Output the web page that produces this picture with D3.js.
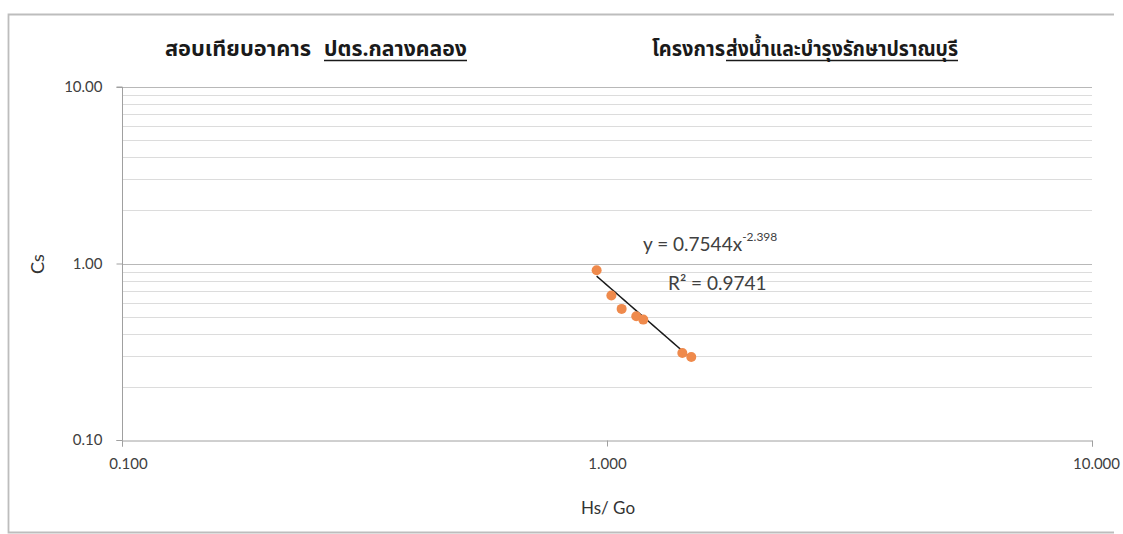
<!DOCTYPE html>
<html><head><meta charset="utf-8">
<script src="https://cdn.jsdelivr.net/npm/d3@7"></script>
<style>
html,body{margin:0;padding:0;background:#fff;}
svg{display:block;}
</style></head>
<body>
<svg id="chart" width="1123" height="534"></svg>
<script>
// ---- data ----
const hsGo = [0.952, 1.021, 1.072, 1.149, 1.188, 1.430, 1.492];
const cs   = [0.916, 0.658, 0.553, 0.502, 0.481, 0.311, 0.295];
const fitCoef = 0.7544;
const fitExp = -2.398;
const rSquared = "0.9741";
const xTickValues = [0.1, 1, 10];
const xTickLabels = ["0.100", "1.000", "10.000"];
const yTickValues = [0.1, 1, 10];
const yTickLabels = ["0.10", "1.00", "10.00"];
const titleLeftA = "สอบเทียบอาคาร";
const titleLeftB = "ปตร.กลางคลอง";
const titleRightA = "โครงการ";
const titleRightB = "ส่งน้ำและบำรุงรักษาปราณบุรี";
const xLabel = "Hs/ Go";
const yLabel = "Cs";

const svg = d3.select("#chart");
const L = 122, R = 1092, T = 87, B = 440;
const latin = "Lato, 'Open Sans', sans-serif";
const thai = "'Noto Sans Thai','Noto Sans','Loma','Garuda',sans-serif";

// frame (no right border visible in the reference)
svg.append("path").attr("d", "M1114,14.5H8.5V532.5H1114")
  .attr("fill", "none").attr("stroke", "#bdbdbd").attr("stroke-width", 1.8);

const x = d3.scaleLog().domain([0.1, 10]).range([L, R]);
const y = d3.scaleLog().domain([0.1, 10]).range([B, T]);

// minor + major horizontal gridlines
const gridVals = [];
for (const dec of [0.1, 1]) for (let k = 2; k <= 10; k++) gridVals.push(+(dec * k).toFixed(4));
svg.append("g").selectAll("line").data(gridVals).join("line")
  .attr("x1", L).attr("x2", R)
  .attr("y1", d => Math.round(y(d)) + 0.5).attr("y2", d => Math.round(y(d)) + 0.5)
  .attr("stroke", d => (d === 1 || d === 10) ? "#b8b8b8" : "#dcdcdc")
  .attr("stroke-width", 1);

// y axis
const yAxis = d3.axisLeft(y).tickValues(yTickValues)
  .tickFormat((d, i) => yTickLabels[i]).tickSize(6).tickPadding(14);
const gy = svg.append("g").attr("transform", `translate(${L + 0.5},0)`).call(yAxis);
gy.select(".domain").attr("stroke", "#a0a0a0").attr("d", `M-6,${B + 0.5}H0V${T}H-6`);
gy.selectAll(".tick line").attr("stroke", "#a0a0a0");
gy.selectAll(".tick text").attr("font-family", latin).attr("font-size", 15).attr("fill", "#404040");

// x axis
const xAxis = d3.axisBottom(x).tickValues(xTickValues)
  .tickFormat((d, i) => xTickLabels[i]).tickSize(6).tickPadding(12);
const gx = svg.append("g").attr("transform", `translate(0,${B + 0.5})`).call(xAxis);
gx.select(".domain").attr("stroke", "#a0a0a0");
gx.selectAll(".tick line").attr("stroke", "#a0a0a0");
gx.selectAll(".tick text").attr("font-family", latin).attr("font-size", 15).attr("fill", "#404040")
  .attr("dx", (d, i) => i === 0 ? 6 : (i === 2 ? 4 : 0));

// trendline (power fit) across data range
const xMin = d3.min(hsGo), xMax = d3.max(hsGo);
const fitPts = d3.range(0, 21).map(i => {
  const xv = xMin * Math.pow(xMax / xMin, i / 20);
  return [xv, fitCoef * Math.pow(xv, fitExp)];
});
svg.append("path").datum(fitPts)
  .attr("d", d3.line().x(d => x(d[0])).y(d => y(d[1])))
  .attr("fill", "none").attr("stroke", "#1a1a1a").attr("stroke-width", 1.5);

// points
svg.append("g").selectAll("circle").data(hsGo.map((v, i) => [v, cs[i]])).join("circle")
  .attr("cx", d => x(d[0])).attr("cy", d => y(d[1])).attr("r", 5)
  .attr("fill", "#ef8a4c");

// equation
const eq = svg.append("text").attr("x", 643).attr("y", 251)
  .attr("font-family", latin).attr("font-size", 19).attr("fill", "#404040");
eq.append("tspan").text(`y = ${fitCoef}x`);
eq.append("tspan").attr("dy", -10).attr("font-size", 12).text(`${fitExp}`);
svg.append("text").attr("x", 668).attr("y", 290)
  .attr("font-family", latin).attr("font-size", 19).attr("fill", "#404040")
  .text(`R² = ${rSquared}`);

// axis titles
svg.append("text").attr("transform", "translate(44,264) rotate(-90)")
  .attr("text-anchor", "middle").attr("font-family", latin).attr("font-size", 18).attr("fill", "#333")
  .text(yLabel);
svg.append("text").attr("x", 608).attr("y", 514).attr("text-anchor", "middle")
  .attr("font-family", latin).attr("font-size", 17).attr("fill", "#333").text(xLabel);

// titles
function thaiText(str, x0, x1, underline) {
  svg.append("text").attr("x", x0).attr("y", 56)
    .attr("font-family", thai).attr("font-size", 21).attr("font-weight", "bold")
    .attr("fill", "#1a1a1a")
    .attr("textLength", x1 - x0).attr("lengthAdjust", "spacingAndGlyphs")
    .text(str);
  if (underline) {
    svg.append("line").attr("x1", x0).attr("x2", x1).attr("y1", 60.5).attr("y2", 60.5)
      .attr("stroke", "#1a1a1a").attr("stroke-width", 1.5);
  }
}
thaiText(titleLeftA, 165, 311, false);
thaiText(titleLeftB, 324, 467, true);
thaiText(titleRightA, 652, 725, false);
thaiText(titleRightB, 726, 958, true);
</script>
</body></html>
